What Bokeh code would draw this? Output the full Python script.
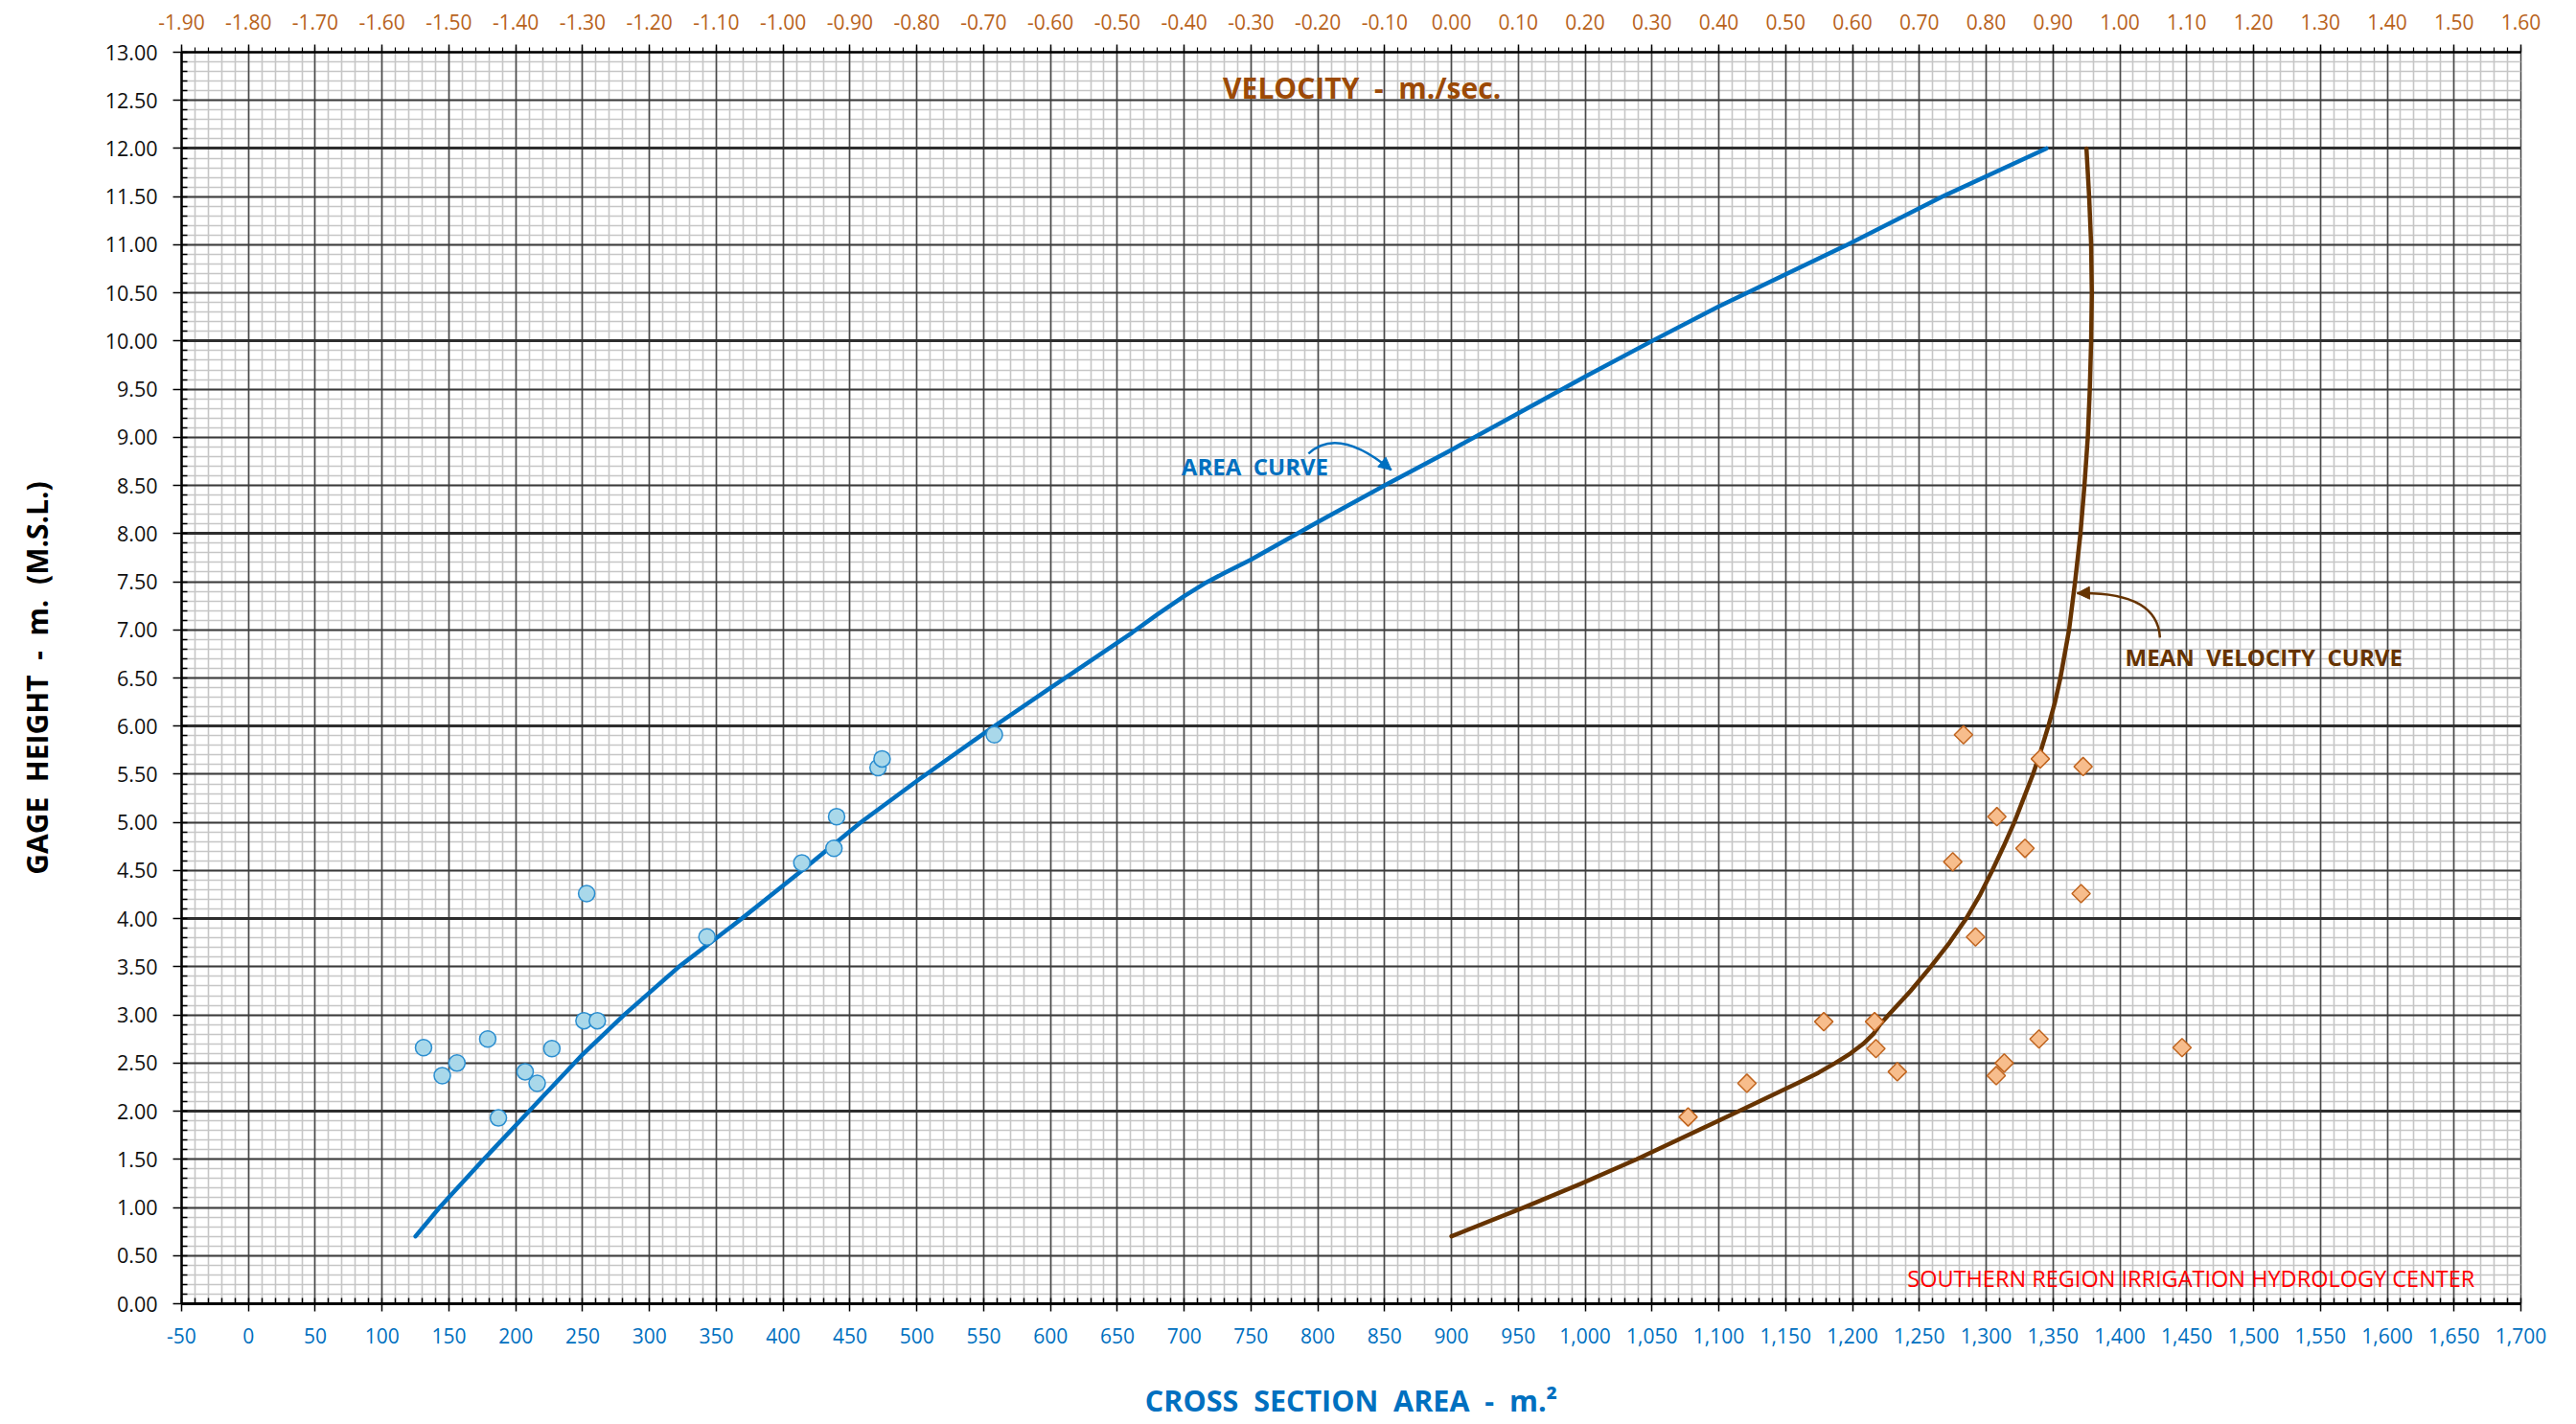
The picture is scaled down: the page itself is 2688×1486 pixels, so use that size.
import math
from bokeh.plotting import figure
from bokeh.models import (Range1d, LinearAxis, SingleIntervalTicker, FixedTicker, NumeralTickFormatter,
                          Grid, Label, Arrow, NormalHead)
from bokeh.embed import file_html
from bokeh.resources import INLINE

# ---------------- data ----------------
# observed cross-section areas (m2) vs gage height (m)
obs_area = [131, 145, 156, 179, 187, 207, 216, 227, 251, 261, 253, 343, 414, 438, 440, 471, 474, 558]
obs_area_gh = [2.66, 2.37, 2.50, 2.75, 1.93, 2.41, 2.29, 2.65, 2.94, 2.94, 4.26, 3.81, 4.58, 4.73, 5.06, 5.57, 5.66, 5.91]

# observed mean velocities (m/sec) vs gage height (m)
obs_vel = [0.354, 0.442, 0.557, 0.633, 0.635, 0.667, 0.815, 0.827, 0.879, 1.093,
           0.766, 0.881, 0.945, 0.816, 0.858, 0.750, 0.942, 0.784]
obs_vel_gh = [1.94, 2.29, 2.93, 2.93, 2.65, 2.41, 2.37, 2.50, 2.75, 2.66,
              5.91, 5.66, 5.58, 5.06, 4.73, 4.59, 4.26, 3.81]

# fitted area curve
curve_area = [125, 143, 176, 210, 250, 281, 322, 369, 414, 458, 501, 558, 597, 661, 680, 700, 715, 730, 750,
              800, 850, 900, 950, 1000, 1050, 1100, 1196, 1267, 1345]
curve_area_gh = [0.70, 1.00, 1.50, 2.00, 2.59, 3.00, 3.50, 4.00, 4.50, 5.00, 5.44, 6.00, 6.37, 6.97, 7.16, 7.35, 7.48, 7.59, 7.73,
                 8.12, 8.50, 8.87, 9.25, 9.63, 10.00, 10.36, 11.00, 11.50, 12.00]

# fitted mean velocity curve
curve_vel = [0.000, 0.108, 0.195, 0.277, 0.430, 0.505, 0.520, 0.549, 0.574, 0.597, 0.616, 0.631, 0.641,
             0.654, 0.687, 0.717, 0.745, 0.770, 0.791, 0.809, 0.826, 0.842, 0.856, 0.870, 0.882, 0.893,
             0.903, 0.911, 0.924, 0.933, 0.941, 0.947, 0.952, 0.955, 0.957, 0.958, 0.957, 0.954, 0.950]
curve_vel_gh = [0.70, 1.00, 1.25, 1.50, 2.00, 2.25, 2.30, 2.40, 2.50, 2.60, 2.70, 2.80, 2.90,
                3.00, 3.25, 3.50, 3.75, 4.00, 4.25, 4.50, 4.75, 5.00, 5.25, 5.50, 5.75, 6.00,
                6.25, 6.50, 7.00, 7.50, 8.00, 8.50, 9.00, 9.50, 10.00, 10.50, 11.00, 11.50, 12.00]

# axis ranges / tick steps
area_range = (-50, 1700)
vel_range = (-1.90, 1.60)
gh_range = (0, 13)
vel_major = [round(-1.90 + 0.10 * i, 2) for i in range(36)]
vel_minor = [round(-1.90 + 0.02 * i, 2) for i in range(176)]

# texts (non-breaking spaces keep the wide word gaps)
S = "\u00a0 "
x_title = "CROSS" + S + "SECTION" + S + "AREA" + S + "-" + S + "m.\u00b2"
y_title = "GAGE" + S + "HEIGHT" + S + "-" + S + "m." + S + "(M.S.L.)"
vel_title = "VELOCITY" + S + "-" + S + "m./sec."
area_note = "AREA" + S + "CURVE"
vel_note = "MEAN" + S + "VELOCITY" + S + "CURVE"
credit = "SOUTHERN REGION IRRIGATION HYDROLOGY CENTER"

# ---------------- styles ----------------
FONT = "Open Sans"
BLUE = "#0070C0"
BROWN = "#663300"
ORANGE_TXT = "#B8621B"
TITLE_BROWN = "#9C4A06"

p = figure(width=2684, height=1484, output_backend="svg", toolbar_location=None,
           x_range=Range1d(*area_range), y_range=Range1d(*gh_range),
           min_border_left=189, min_border_right=54, min_border_top=54, min_border_bottom=123,
           background_fill_color="white", border_fill_color="white")
p.extra_x_ranges = {"vel": Range1d(*vel_range)}
p.outline_line_color = "#444444"
p.outline_line_width = 1.5

xt = SingleIntervalTicker(interval=50, num_minor_ticks=5)
yt = SingleIntervalTicker(interval=0.5, num_minor_ticks=5)
vt = FixedTicker(ticks=vel_major, minor_ticks=vel_minor)

# minor grids first
p.xgrid.ticker = xt
p.xgrid.grid_line_color = None
p.xgrid.minor_grid_line_color = "#c6c6c6"
p.xgrid.minor_grid_line_width = 1.6
p.ygrid.ticker = yt
p.ygrid.grid_line_color = None
p.ygrid.minor_grid_line_color = "#c6c6c6"
p.ygrid.minor_grid_line_width = 1.6
# major grids
p.add_layout(Grid(dimension=0, ticker=xt, grid_line_color="#4a4a4a", grid_line_width=1.6))
p.add_layout(Grid(dimension=1, ticker=yt, grid_line_color="#3a3a3a", grid_line_width=1.8))
p.add_layout(Grid(dimension=1, ticker=SingleIntervalTicker(interval=2, num_minor_ticks=0),
                  grid_line_color="#2e2e2e", grid_line_width=3.2))

# bottom axis
xa = p.xaxis[0]
xa.ticker = xt
xa.formatter = NumeralTickFormatter(format="0,0")
xa.axis_line_color = "black"
xa.axis_line_width = 3
xa.major_tick_out = 8
xa.major_tick_in = 0
xa.minor_tick_out = 0
xa.minor_tick_in = 6
xa.major_tick_line_color = "black"
xa.major_tick_line_width = 1.5
xa.minor_tick_line_color = "black"
xa.minor_tick_line_width = 1.5
xa.major_label_standoff = 17
xa.major_label_text_font = FONT
xa.major_label_text_font_size = "21px"
xa.major_label_text_color = BLUE
xa.axis_label = x_title
xa.axis_label_text_font = FONT
xa.axis_label_text_font_style = "bold"
xa.axis_label_text_font_size = "30.5px"
xa.axis_label_text_color = BLUE
xa.axis_label_standoff = 35

# left axis
ya = p.yaxis[0]
ya.ticker = yt
ya.formatter = NumeralTickFormatter(format="0.00")
ya.axis_line_color = "black"
ya.axis_line_width = 2.5
ya.major_tick_out = 9
ya.major_tick_in = 0
ya.minor_tick_out = 0
ya.minor_tick_in = 6
ya.major_tick_line_color = "black"
ya.major_tick_line_width = 1.5
ya.minor_tick_line_color = "black"
ya.minor_tick_line_width = 1.5
ya.major_label_standoff = 16
ya.major_label_text_font = FONT
ya.major_label_text_font_size = "21.5px"
ya.major_label_text_color = "#111111"
ya.axis_label = y_title
ya.axis_label_text_font = FONT
ya.axis_label_text_font_style = "bold"
ya.axis_label_text_font_size = "30px"
ya.axis_label_text_color = "black"
ya.axis_label_standoff = 48

# top velocity axis
va = LinearAxis(x_range_name="vel", ticker=vt, formatter=NumeralTickFormatter(format="0.00"))
va.axis_line_color = "black"
va.axis_line_width = 2.5
va.major_tick_out = 8
va.major_tick_in = 0
va.minor_tick_out = 5
va.minor_tick_in = 0
va.major_tick_line_color = "black"
va.major_tick_line_width = 1.5
va.minor_tick_line_color = "black"
va.minor_tick_line_width = 1.2
va.major_label_standoff = 16
va.major_label_text_font = FONT
va.major_label_text_font_size = "21px"
va.major_label_text_color = ORANGE_TXT
p.add_layout(va, "above")

# ---------------- curves and points ----------------
p.line(curve_area, curve_area_gh, line_color=BLUE, line_width=4.5, line_join="round", line_cap="round")
p.line(curve_vel, curve_vel_gh, x_range_name="vel", line_color=BROWN, line_width=4.5,
       line_join="round", line_cap="round")
p.scatter(obs_area, obs_area_gh, marker="circle", size=17, fill_color="#A9D8EA",
          line_color="#2B8ED0", line_width=1.5)
p.scatter(obs_vel, obs_vel_gh, x_range_name="vel", marker="square", angle=math.pi / 4, size=13.5,
          fill_color="#F7BD8C", line_color="#C0641E", line_width=1.5)

# ---------------- annotations ----------------
p.add_layout(Label(x=833, y=12.63, text=vel_title, text_font=FONT, text_font_style="bold",
                   text_font_size="30px", text_color=TITLE_BROWN, text_align="center",
                   text_baseline="middle"))
p.add_layout(Label(x=698, y=8.70, text=area_note, text_font=FONT, text_font_style="bold",
                   text_font_size="24px", text_color=BLUE, text_align="left", text_baseline="middle"))
p.add_layout(Label(x=1404, y=6.72, text=vel_note, text_font=FONT, text_font_style="bold",
                   text_font_size="24px", text_color=BROWN, text_align="left", text_baseline="middle"))
p.add_layout(Label(x=1241, y=0.26, text=credit, text_font=FONT, text_font_style="normal",
                   text_font_size="23.5px", text_color="#FF0000", text_align="left", text_baseline="middle"))

# area-curve pointer
p.quadratic(x0=[793], y0=[8.83], x1=[855], y1=[8.66], cx=[815], cy=[9.12], line_color=BLUE, line_width=2.5)
p.add_layout(Arrow(x_start=849, y_start=8.73, x_end=855, y_end=8.66, line_color=BLUE, line_width=2.5,
                   end=NormalHead(size=13, fill_color=BLUE, line_color=BLUE)))
# velocity-curve pointer
p.quadratic(x0=[1430], y0=[6.92], x1=[1368], y1=[7.38], cx=[1428], cy=[7.40], line_color=BROWN, line_width=2.5)
p.add_layout(Arrow(x_start=1376, y_start=7.383, x_end=1368, y_end=7.38, line_color=BROWN, line_width=2.5,
                   end=NormalHead(size=13, fill_color=BROWN, line_color=BROWN)))

open("out.html", "w").write(file_html(p, INLINE))
